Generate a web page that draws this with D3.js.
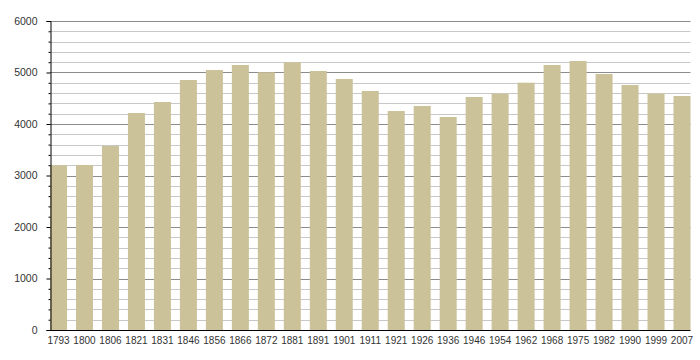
<!DOCTYPE html>
<html>
<head>
<meta charset="utf-8">
<script src="https://cdn.jsdelivr.net/npm/d3@7"></script>
<style>
  html, body { margin: 0; padding: 0; background: #fff; }
  svg { display: block; font-family: "Liberation Sans", Arial, sans-serif; }
</style>
</head>
<body>
<svg id="chart" width="700" height="360"></svg>
<script>
const years = ["1793","1800","1806","1821","1831","1846","1856","1866","1872","1881","1891","1901","1911","1921","1926","1936","1946","1954","1962","1968","1975","1982","1990","1999","2007"];
const population = [3200,3205,3573,4214,4427,4854,5048,5146,5004,5198,5029,4874,4641,4252,4350,4136,4524,4589,4802,5146,5223,4971,4757,4589,4544];
const majorTicks = [0,1000,2000,3000,4000,5000,6000];
const minorTicks = d3.range(0, 6001, 200).filter(v => v % 1000 !== 0);

const svg = d3.select("#chart");
const mLeft = 50, mRight = 690.5, mTop = 21, mBottom = 330;

const x = d3.scaleBand().domain(years).range([mLeft, mRight]).paddingInner(0.345).paddingOuter(0);
const y = d3.scaleLinear().domain([0, 6000]).range([mBottom, mTop]);

// minor gridlines
svg.append("g").selectAll("line").data(minorTicks).join("line")
  .attr("x1", mLeft).attr("x2", mRight)
  .attr("y1", d => Math.round(y(d)) + 0.5).attr("y2", d => Math.round(y(d)) + 0.5)
  .attr("stroke", "#c8c8c8").attr("stroke-width", 1);
// major gridlines
svg.append("g").selectAll("line").data(majorTicks.filter(d => d > 0)).join("line")
  .attr("x1", mLeft).attr("x2", mRight)
  .attr("y1", d => Math.round(y(d)) + 0.5).attr("y2", d => Math.round(y(d)) + 0.5)
  .attr("stroke", "#8c8c8c").attr("stroke-width", 1);

// bars
svg.append("g").selectAll("rect").data(population).join("rect")
  .attr("x", (d, i) => x(years[i]))
  .attr("width", x.bandwidth())
  .attr("y", d => y(d))
  .attr("height", d => y(0) - y(d))
  .attr("fill", "#ccc299");

// y axis
const yAxisMajor = d3.axisLeft(y).tickValues(majorTicks).tickSize(4).tickPadding(9).tickFormat(d3.format("d"));
const gy = svg.append("g").attr("transform", `translate(${mLeft + 0.5},0)`).call(yAxisMajor);
gy.select(".domain").attr("stroke", "#000");
gy.selectAll(".tick line").attr("stroke", "#000");
gy.selectAll(".tick text").attr("font-size", 10.5).attr("fill", "#333").attr("font-family", "Liberation Sans, Arial, sans-serif");

const yAxisMinor = d3.axisLeft(y).tickValues(minorTicks).tickSize(2).tickFormat("");
const gym = svg.append("g").attr("transform", `translate(${mLeft + 0.5},0)`).call(yAxisMinor);
gym.select(".domain").remove();
gym.selectAll(".tick line").attr("stroke", "#000");

// x axis
const xAxis = d3.axisBottom(x).tickSize(0).tickPadding(6);
const gx = svg.append("g").attr("transform", `translate(0,${mBottom + 0.5})`).call(xAxis);
gx.select(".domain").attr("stroke", "#000").attr("d", `M${mLeft},0H${mRight}`);
gx.selectAll(".tick text").attr("font-size", 10).attr("fill", "#333").attr("font-family", "Liberation Sans, Arial, sans-serif");
</script>
</body>
</html>
